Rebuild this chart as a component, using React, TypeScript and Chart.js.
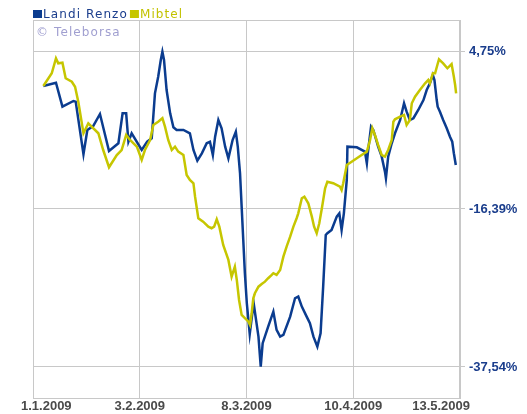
import React, { useEffect, useRef } from 'react';
import { Chart, registerables } from 'chart.js';

Chart.register(...registerables);

const seriesNames = ['Landi Renzo', 'Mibtel'];

const landiDays = [
  3.2, 7.1, 9.1, 12.5, 13.2, 15.6, 16.8, 18.6, 20.7, 23.5,
  26.4, 27.7, 28.8, 29.5, 30.5, 33.6, 35.3, 36.7, 37.7, 38.7,
  39.5, 40.0, 40.5, 41.3, 42.4, 43.4, 44.4, 46.5, 48.5, 49.6,
  50.8, 52.2, 53.7, 54.7, 55.6, 56.3, 57.3, 58.3, 59.4, 60.4,
  61.7, 62.7, 63.3, 64.0, 64.5, 65.0, 65.5, 66.1, 67.0, 68.2,
  69.7, 70.4, 71.0, 72.7, 74.3, 75.3, 76.4, 77.4, 79.5, 81.0,
  82.0, 83.1, 84.6, 85.6, 86.7, 87.9, 88.9, 89.7, 90.5, 91.0,
  92.3, 93.9, 94.7, 95.4, 96.1, 97.0, 97.2, 100.1, 102.6, 103.2,
  103.5, 104.5, 105.2, 106.7, 107.8, 108.8, 109.1, 109.8, 110.9, 111.9,
  113.5, 114.7, 115.5, 116.5, 117.6, 119.1, 120.7, 121.7, 122.7, 123.6,
  124.1, 124.8, 125.1, 125.8, 126.8, 127.9, 128.9, 129.6, 130.1, 130.7,
];
const landiValues = [
  0.07, 0.51, -2.70, -1.94, -2.03, -9.07, -5.82, -5.29, -3.68, -8.63,
  -7.60, -3.59, -3.59, -7.39, -6.26, -8.50, -7.39, -6.93, -0.91, 1.31,
  3.55, 4.66, 3.55, -0.47, -3.59, -5.46, -5.82, -5.82, -6.26, -8.50,
  -9.93, -8.94, -7.60, -7.39, -9.17, -6.72, -4.48, -5.59, -8.05, -9.61,
  -7.16, -6.05, -8.05, -11.61, -16.08, -20.54, -24.99, -29.01, -33.12, -28.97,
  -33.48, -37.49, -34.36, -32.14, -30.13, -32.58, -33.48, -33.25, -30.80, -28.34,
  -28.12, -29.46, -30.80, -31.68, -33.48, -34.81, -33.02, -26.79, -19.87, -19.64,
  -19.20, -17.42, -16.97, -19.20, -16.97, -12.51, -8.05, -8.14, -8.72, -10.28,
  -8.94, -5.38, -5.82, -8.05, -9.39, -11.40, -12.28, -9.39, -7.60, -6.26,
  -4.48, -2.25, -3.37, -4.48, -4.25, -3.14, -1.81, -0.47, 0.43, 1.54,
  0.87, -1.81, -2.70, -3.37, -4.48, -5.59, -6.72, -7.39, -8.94, -10.50,
];

const mibtelDays = [
  3.2, 5.8, 7.1, 7.8, 9.1, 10.1, 12.0, 13.0, 14.0, 15.6,
  17.1, 20.2, 21.7, 23.5, 25.9, 27.4, 28.8, 30.0, 32.1, 33.6,
  34.6, 36.2, 37.2, 38.7, 40.0, 40.8, 41.8, 42.9, 43.9, 44.9,
  46.5, 47.5, 48.5, 49.6, 50.1, 51.1, 52.6, 54.2, 55.2, 56.0,
  56.8, 57.6, 58.8, 60.4, 61.4, 62.4, 63.0, 63.7, 64.5, 65.5,
  66.6, 67.1, 67.6, 68.1, 68.6, 69.7, 70.7, 71.7, 72.7, 73.8,
  74.3, 75.3, 76.4, 77.4, 78.4, 79.5, 80.5, 81.5, 82.0, 83.1,
  83.9, 85.1, 86.2, 86.9, 87.7, 88.5, 89.3, 90.3, 91.0, 92.8,
  94.9, 95.4, 95.9, 97.0, 98.5, 100.1, 101.6, 103.2, 104.2, 104.9,
  105.7, 106.7, 107.8, 108.8, 109.8, 110.9, 111.4, 111.9, 113.5, 114.7,
  115.5, 116.5, 117.1, 118.1, 119.6, 121.2, 122.2, 122.7, 123.6, 124.3,
  125.0, 125.5, 126.8, 128.1, 129.4, 130.1, 130.5, 130.8,
];
const mibtelValues = [
  0.07, 1.77, 3.77, 3.10, 3.18, 1.10, 0.64, -0.03, -2.03, -6.26,
  -4.92, -6.26, -8.50, -10.81, -9.17, -8.50, -6.49, -7.16, -8.05, -9.83,
  -8.50, -7.16, -5.15, -4.71, -4.25, -5.38, -7.16, -8.50, -8.05, -8.72,
  -9.17, -11.84, -12.51, -12.95, -14.74, -17.63, -18.09, -18.76, -18.97, -18.76,
  -17.77, -18.76, -21.21, -23.21, -25.45, -24.11, -25.89, -28.57, -30.57, -31.01,
  -31.47, -31.91, -30.35, -28.34, -27.67, -26.79, -26.43, -26.12, -25.66, -25.22,
  -24.99, -25.22, -24.55, -22.77, -21.43, -20.10, -18.76, -17.63, -16.97, -14.96,
  -14.74, -15.63, -17.42, -18.76, -19.64, -18.30, -16.30, -13.62, -12.74, -12.95,
  -13.41, -13.85, -12.95, -10.50, -10.06, -9.61, -9.17, -8.72, -7.16, -5.59,
  -6.49, -7.83, -9.17, -9.39, -8.50, -7.16, -4.71, -4.39, -4.04, -3.81,
  -5.15, -4.48, -2.25, -1.36, -0.47, 0.43, 0.87, 0.43, 1.77, 1.77,
  2.88, 3.64, 3.10, 2.44, 3.01, 1.31, 0.20, -0.91,
];

const tickDays = [0, 33, 66, 99, 132];
const tickLabels = ['1.1.2009', '3.2.2009', '8.3.2009', '10.4.2009', '13.5.2009'];
const yTickValues = [4.75, -16.39, -37.54];
const yRange = [-41.69, 8.9];
const creditText = '\u00A9 Teleborsa';

const BLUE = '#0b3c8f';
const YELLOW = '#c6c600';
const GRID = '#c8c8c8';
const AXIS_TXT = '#1a3d8c';
const XLABEL_TXT = '#4a4a4a';
const CREDIT_TXT = '#a09fd0';

const toPoints = (xs: number[], ys: number[]) => xs.map((x, i) => ({ x, y: ys[i] }));

const decorPlugin = {
  id: 'decor',
  beforeDatasetsDraw(chart: any) {
    const { ctx, chartArea: a } = chart;
    ctx.save();
    ctx.strokeStyle = GRID;
    ctx.lineWidth = 1;
    ctx.strokeRect(Math.round(a.left) + 0.5, Math.round(a.top) + 0.5, Math.round(a.right - a.left) - 1, Math.round(a.bottom - a.top));
    ctx.restore();
  },
  afterDraw(chart: any) {
    const { ctx, chartArea: a } = chart;
    const xs = chart.scales.x;
    ctx.save();
    // legend
    ctx.font = '12px "DejaVu Sans"';
    (ctx as any).letterSpacing = '1.1px';
    ctx.textBaseline = 'alphabetic';
    ctx.textAlign = 'left';
    const colors = [BLUE, YELLOW];
    const textColors = [AXIS_TXT, '#c2c200'];
    let x = a.left;
    seriesNames.forEach((name, i) => {
      ctx.fillStyle = colors[i];
      ctx.fillRect(x, 10, 9, 8);
      x += 10;
      ctx.fillStyle = textColors[i];
      ctx.fillText(name, x, 18);
      x += ctx.measureText(name).width + 2;
    });
    // credit
    ctx.fillStyle = CREDIT_TXT;
    ctx.fillText(creditText, a.left + 3, 36);
    (ctx as any).letterSpacing = '0px';
    // x labels
    ctx.font = 'bold 13px "Liberation Sans", Arial';
    ctx.fillStyle = XLABEL_TXT;
    ctx.textBaseline = 'middle';
    ctx.textAlign = 'center';
    const lo = a.left - 12;
    const hi = a.right + 10;
    tickDays.forEach((d, i) => {
      const label = tickLabels[i];
      const w = ctx.measureText(label).width;
      let px = xs.getPixelForValue(d);
      px = Math.max(lo + w / 2, Math.min(hi - w / 2, px));
      ctx.fillText(label, px, a.bottom + 8);
    });
    ctx.restore();
  },
};

export default function App() {
  const ref = useRef<HTMLCanvasElement | null>(null);
  useEffect(() => {
    if (!ref.current) return;
    const chart = new Chart(ref.current, {
      type: 'line',
      data: {
        datasets: [
          {
            label: seriesNames[1],
            data: toPoints(mibtelDays, mibtelValues),
            borderColor: YELLOW,
            borderWidth: 2.5,
            pointRadius: 0,
            tension: 0,
            fill: false,
          },
          {
            label: seriesNames[0],
            data: toPoints(landiDays, landiValues),
            borderColor: BLUE,
            borderWidth: 2.5,
            pointRadius: 0,
            tension: 0,
            fill: false,
          },
        ],
      },
      options: {
        responsive: false,
        animation: false,
        events: [],
        layout: { padding: { left: 33, top: 20, right: 0, bottom: 0 } },
        plugins: { legend: { display: false }, tooltip: { enabled: false }, title: { display: false } },
        scales: {
          x: {
            type: 'linear',
            min: tickDays[0],
            max: tickDays[tickDays.length - 1],
            afterBuildTicks: (s: any) => { s.ticks = tickDays.map((v) => ({ value: v })); },
            afterFit: (s: any) => { s.height = 16; },
            grid: { color: GRID, drawTicks: false, lineWidth: 1 },
            border: { color: GRID },
            ticks: { display: false },
          },
          y: {
            type: 'linear',
            position: 'right',
            min: yRange[0],
            max: yRange[1],
            afterBuildTicks: (s: any) => { s.ticks = yTickValues.map((v) => ({ value: v })); },
            afterFit: (s: any) => { s.width = 67; },
            grid: { color: GRID, drawTicks: true, tickLength: 5, lineWidth: 1 },
            border: { color: GRID },
            ticks: {
              padding: 4,
              color: AXIS_TXT,
              font: { family: '"Liberation Sans", Arial', size: 13, weight: 'bold' },
              callback: (v: any) => Number(v).toFixed(2).replace('.', ',') + '%',
            },
          },
        },
      },
      plugins: [decorPlugin],
    });
    return () => chart.destroy();
  }, []);
  return (
    <div style={{ position: 'absolute', left: 0, top: 0, width: 527, height: 414, background: '#fff' }}>
      <canvas ref={ref} width={527} height={414} style={{ display: 'block' }} />
    </div>
  );
}
